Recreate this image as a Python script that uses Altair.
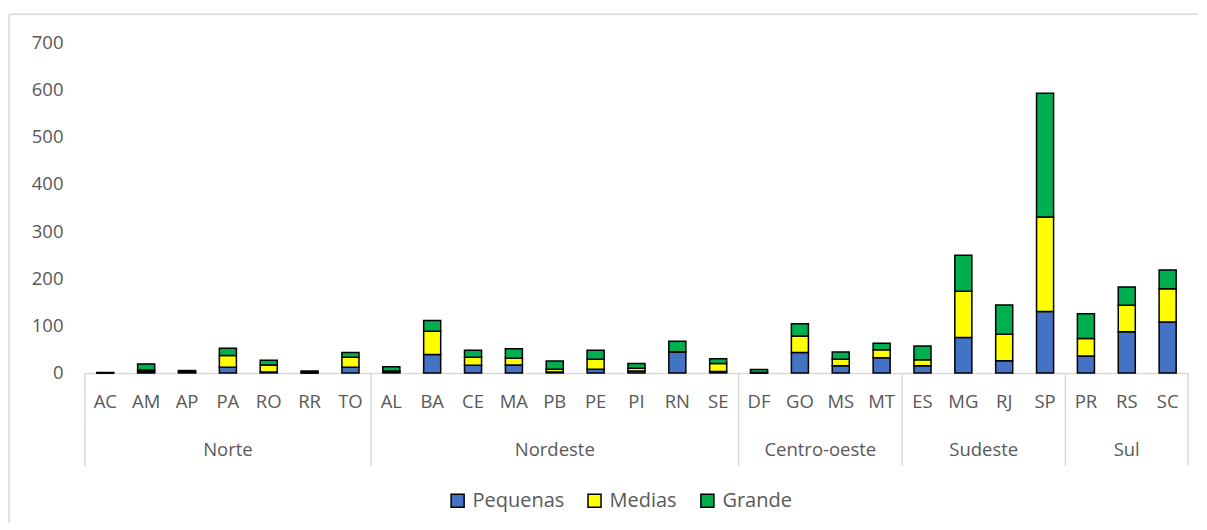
import altair as alt
import pandas as pd

states = ["AC","AM","AP","PA","RO","RR","TO",
          "AL","BA","CE","MA","PB","PE","PI","RN","SE",
          "DF","GO","MS","MT",
          "ES","MG","RJ","SP",
          "PR","RS","SC"]
state_region = (["Norte"]*7 + ["Nordeste"]*9 + ["Centro-oeste"]*4 +
                ["Sudeste"]*4 + ["Sul"]*3)
pequenas = [0,3,1,12,2,0,12, 2,39,16,17,2,8,4,44,3, 0,43,15,32, 15,75,26,130, 36,87,108]
medias   = [0,3,2,25,15,1,21, 2,49,17,14,6,21,6,1,17, 1,35,14,17, 13,98,56,200, 37,56,70]
grande   = [1,13,2,15,10,3,10, 9,23,15,20,17,19,10,22,10, 6,26,15,14, 29,76,62,262, 52,39,40]
series = ["Pequenas", "Medias", "Grande"]
colors = ["#4472C4", "#FFFF00", "#00B050"]
regions = ["Norte", "Nordeste", "Centro-oeste", "Sudeste", "Sul"]

rows = []
for i, s in enumerate(states):
    for k, (name, vals) in enumerate(zip(series, [pequenas, medias, grande])):
        rows.append({"state": s, "serie": name, "value": vals[i], "ord": k})
df = pd.DataFrame(rows)

# region boundaries & centers (from the state lists)
bounds = [0]
centers = []
for r in regions:
    n = state_region.count(r)
    centers.append(bounds[-1] + n / 2)
    bounds.append(bounds[-1] + n)
reg_df = pd.DataFrame({"region": regions, "center": centers})
bnd_df = pd.DataFrame({"b": bounds})

W, H = 1104, 331
FONT = "Open Sans"
FS = 18.5
GRAY = "#595959"

bars = alt.Chart(df).mark_bar(stroke="black", strokeWidth=1.5).encode(
    x=alt.X("state:N", sort=states, title=None,
            scale=alt.Scale(paddingInner=0.583, paddingOuter=0.29),
            axis=alt.Axis(labelAngle=0, labelFontSize=FS, labelColor=GRAY, labelFont=FONT,
                          ticks=False, labelPadding=20, domainColor="#d9d9d9", domainWidth=1.5)),
    y=alt.Y("value:Q", stack="zero", title=None,
            scale=alt.Scale(domain=[0, 700], nice=False),
            axis=alt.Axis(values=list(range(0, 701, 100)), grid=False, domain=False, ticks=False,
                          labelFontSize=FS, labelColor=GRAY, labelFont=FONT, labelPadding=22)),
    color=alt.Color("serie:N", sort=series,
                    scale=alt.Scale(domain=series, range=colors),
                    legend=alt.Legend(title=None, orient="none", direction="horizontal",
                                      legendX=363, legendY=449, symbolType="square",
                                      symbolSize=170, symbolStrokeColor="black",
                                      symbolStrokeWidth=1.5, labelFontSize=20,
                                      labelColor=GRAY, labelFont=FONT, columnPadding=20,
                                      labelOffset=5)),
    order=alt.Order("ord:Q"),
)

xq = alt.X("b:Q", scale=alt.Scale(domain=[0, len(states)], nice=False, zero=False), axis=None)
seps = alt.Chart(bnd_df).mark_rule(color="#d9d9d9", strokeWidth=1.5).encode(
    x=xq, y=alt.value(H), y2=alt.value(H + 93))

labels = alt.Chart(reg_df).mark_text(fontSize=FS, color=GRAY, font=FONT, baseline="middle").encode(
    x=alt.X("center:Q", scale=alt.Scale(domain=[0, len(states)], nice=False, zero=False), axis=None),
    y=alt.value(H + 77), text="region:N")

# outer chart frame (partially visible, as in the reference)
frame_df = pd.DataFrame({"k": [0]})
frame_left = alt.Chart(frame_df).mark_rule(color="#d9d9d9", strokeWidth=1.5).encode(
    x=alt.value(-76), y=alt.value(-28), y2=alt.value(H + 150))
frame_top = alt.Chart(frame_df).mark_rule(color="#d9d9d9", strokeWidth=1.5).encode(
    x=alt.value(-76), x2=alt.value(W + 10), y=alt.value(-28))

chart = alt.layer(bars, seps, labels, frame_left, frame_top).resolve_scale(x="independent").properties(
    width=W, height=H,
    padding={"left": 0, "top": 5, "right": 0, "bottom": 0},
).configure(background="white").configure_view(stroke=None)

chart.save("out.html", embed_options={"renderer": "svg", "actions": False})
